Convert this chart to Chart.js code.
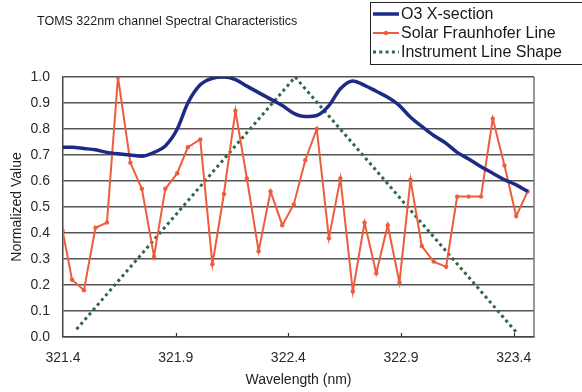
<!DOCTYPE html>
<html>
<head>
<meta charset="utf-8">
<title>TOMS 322nm channel</title>
<script src="https://cdn.jsdelivr.net/npm/chart.js@4.4.1/dist/chart.umd.min.js"></script>
<style>
  html, body { margin: 0; padding: 0; background: #fff; }
  #wrap { width: 582px; height: 392px; }
</style>
</head>
<body>
<div id="wrap"><canvas id="specChart" width="582" height="392"></canvas></div>
<script>
// wavelength grid (nm) shared by the O3 and solar series
const wavelengths = [
  321.398, 321.440, 321.493, 321.544, 321.595, 321.644, 321.699, 321.750, 321.804, 321.854,
  321.907, 321.954, 322.009, 322.063, 322.114, 322.165, 322.216, 322.268, 322.321, 322.373,
  322.424, 322.475, 322.526, 322.580, 322.631, 322.686, 322.738, 322.790, 322.841, 322.893,
  322.942, 322.992, 323.045, 323.100, 323.149, 323.200, 323.255, 323.307, 323.359, 323.411,
  323.462
];

const o3Section = [
  0.73, 0.73, 0.725, 0.72, 0.71, 0.705, 0.70, 0.695, 0.71, 0.735,
  0.80, 0.90, 0.97, 0.995, 1.00, 0.99, 0.965, 0.94, 0.915, 0.89,
  0.86, 0.848, 0.852, 0.89, 0.955, 0.985, 0.968, 0.945, 0.922, 0.89,
  0.845, 0.81, 0.775, 0.745, 0.71, 0.685, 0.655, 0.63, 0.605, 0.585,
  0.56
];

const solarLine = [
  0.41, 0.22, 0.18, 0.42, 0.44, 1.00, 0.67, 0.57, 0.31, 0.57,
  0.63, 0.73, 0.76, 0.28, 0.55, 0.87, 0.61, 0.33, 0.56, 0.43,
  0.51, 0.68, 0.80, 0.38, 0.61, 0.175, 0.44, 0.245, 0.43, 0.21,
  0.605, 0.35, 0.29, 0.27, 0.54, 0.54, 0.54, 0.84, 0.66, 0.465,
  0.56
];

// triangular instrument slit function
const slitWavelengths = [321.46, 322.43, 323.41];
const slitShape = [0.03, 1.0, 0.02];

const xTicks = [321.4, 321.9, 322.4, 322.9, 323.4];
const yTicks = [0, 0.1, 0.2, 0.3, 0.4, 0.5, 0.6, 0.7, 0.8, 0.9, 1.0];

const FONT = 'Arial, "Liberation Sans", sans-serif';

const toPoints = (xs, ys) => xs.map((x, i) => ({ x: x, y: ys[i] }));

// title, boxed legend, right frame line and small inward x ticks
const decorations = {
  id: 'decorations',
  beforeDatasetsDraw(chart) {
    const { ctx, chartArea, scales } = chart;
    ctx.save();
    ctx.strokeStyle = '#777';
    ctx.lineWidth = 1.5;
    ctx.beginPath();
    ctx.moveTo(chartArea.right, chartArea.top);
    ctx.lineTo(chartArea.right, chartArea.bottom);
    ctx.stroke();
    ctx.strokeStyle = '#333';
    ctx.lineWidth = 1.2;
    xTicks.slice(1).forEach(v => {
      const px = Math.round(scales.x.getPixelForValue(v)) + 0.5;
      ctx.beginPath();
      ctx.moveTo(px, chartArea.bottom);
      ctx.lineTo(px, chartArea.bottom - 4);
      ctx.stroke();
    });
    ctx.restore();
  },
  afterDraw(chart) {
    const ctx = chart.ctx;
    ctx.save();
    ctx.fillStyle = '#1a1a1a';
    ctx.font = '12.5px ' + FONT;
    ctx.textBaseline = 'middle';
    ctx.fillText('TOMS 322nm channel Spectral Characteristics', 37, 22);

    // legend box
    ctx.strokeStyle = '#222';
    ctx.lineWidth = 1;
    ctx.strokeRect(370.5, 2.5, 230, 62);
    ctx.font = '16px ' + FONT;
    chart.data.datasets.forEach((ds, i) => {
      const y = 14 + i * 19;
      ctx.save();
      ctx.strokeStyle = ds.borderColor;
      ctx.lineWidth = ds.borderWidth;
      ctx.setLineDash(ds.borderDash || []);
      ctx.beginPath();
      ctx.moveTo(373, y);
      ctx.lineTo(399, y);
      ctx.stroke();
      if (ds.pointRadius > 0) {
        ctx.fillStyle = ds.pointBackgroundColor;
        ctx.beginPath();
        ctx.arc(386, y, ds.pointRadius, 0, Math.PI * 2);
        ctx.fill();
      }
      ctx.restore();
      ctx.fillText(ds.label, 401, y + 1);
    });
    ctx.restore();
  }
};

new Chart(document.getElementById('specChart'), {
  type: 'line',
  data: {
    datasets: [
      {
        label: 'O3 X-section',
        data: toPoints(wavelengths, o3Section),
        borderColor: '#1d2b86',
        borderWidth: 3.5,
        pointRadius: 0,
        cubicInterpolationMode: 'monotone',
        fill: false
      },
      {
        label: 'Solar Fraunhofer Line',
        data: toPoints(wavelengths, solarLine),
        borderColor: '#ef5c3d',
        borderWidth: 2,
        pointRadius: 2.2,
        pointBackgroundColor: '#ef5c3d',
        pointBorderWidth: 0,
        tension: 0,
        fill: false
      },
      {
        label: 'Instrument Line Shape',
        data: toPoints(slitWavelengths, slitShape),
        borderColor: '#2e6844',
        borderWidth: 3,
        borderDash: [3, 3.3],
        pointRadius: 0,
        tension: 0,
        fill: false
      }
    ]
  },
  options: {
    responsive: false,
    animation: false,
    devicePixelRatio: 1,
    layout: { padding: { top: 77, right: 48, bottom: 0, left: 0 } },
    plugins: {
      legend: { display: false },
      title: { display: false },
      tooltip: { enabled: false }
    },
    scales: {
      x: {
        type: 'linear',
        min: 321.4,
        max: 323.49,
        afterBuildTicks: s => { s.ticks = xTicks.map(v => ({ value: v })); },
        afterFit: s => { s.height = 55; },
        ticks: {
          callback: v => v.toFixed(1),
          font: { family: FONT, size: 14 },
          color: '#2a2a2a',
          padding: 13,
          maxRotation: 0,
          autoSkip: false
        },
        grid: { display: false, drawTicks: false },
        border: { display: true, color: '#444', width: 1.5 },
        title: {
          display: true,
          text: 'Wavelength (nm)',
          font: { family: FONT, size: 14 },
          color: '#222',
          padding: { top: 4, bottom: 3 }
        }
      },
      y: {
        min: 0,
        max: 1,
        afterBuildTicks: s => { s.ticks = yTicks.map(v => ({ value: v })); },
        afterFit: s => { s.width = 63; },
        ticks: {
          callback: v => v.toFixed(1),
          font: { family: FONT, size: 14 },
          color: '#2a2a2a',
          padding: 13
        },
        grid: { color: '#555', lineWidth: 1.5, drawTicks: false },
        border: { display: true, color: '#444', width: 1.5 },
        title: {
          display: true,
          text: 'Normalized Value',
          font: { family: FONT, size: 14 },
          color: '#222',
          padding: { top: 9, bottom: 0 }
        }
      }
    }
  },
  plugins: [decorations]
});
</script>
</body>
</html>
